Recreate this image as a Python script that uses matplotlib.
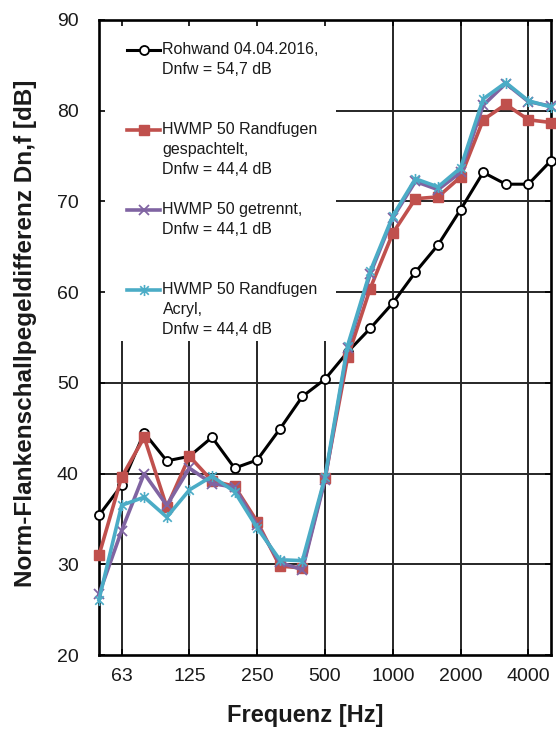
import numpy as np
import matplotlib
matplotlib.use("Agg")
import matplotlib.pyplot as plt
from matplotlib.path import Path
from matplotlib.patches import Rectangle

plt.rcParams['font.family'] = ['Liberation Sans', 'DejaVu Sans']

#----------------------------------------------------------------------------------------------------------------------
# Data (third-octave bands)

freq = ['50', '63', '80', '100', '125', '160', '200', '250', '315', '400', '500',
        '630', '800', '1000', '1250', '1600', '2000', '2500', '3150', '4000', '5000']
tick_labels = ['63', '125', '250', '500', '1000', '2000', '4000']

rohwand = [35.4, 38.7, 44.5, 41.4, 41.9, 44.0, 40.6, 41.5, 44.9, 48.5, 50.4,
           53.4, 56.0, 58.8, 62.2, 65.2, 69.1, 73.2, 71.9, 71.9, 74.5]
gespachtelt = [31.0, 39.6, 44.0, 36.3, 41.9, 39.2, 38.6, 34.7, 29.8, 29.6, 39.5,
               52.8, 60.4, 66.5, 70.3, 70.5, 72.7, 79.0, 80.7, 79.0, 78.7]
getrennt = [26.7, 33.7, 40.0, 36.5, 40.6, 38.9, 38.5, 34.3, 30.2, 29.4, 39.3,
            53.8, 62.0, 68.2, 72.2, 71.3, 73.2, 80.6, 83.0, 81.0, 80.5]
acryl = [26.1, 36.5, 37.4, 35.2, 38.2, 39.7, 38.0, 34.0, 30.5, 30.4, 39.6,
         54.1, 62.3, 68.4, 72.5, 71.6, 73.7, 81.3, 83.1, 81.1, 80.4]

labels = ['\nRohwand 04.04.2016,\nDnfw = 54,7 dB',
          '\n\nHWMP 50 Randfugen\ngespachtelt,\nDnfw = 44,4 dB',
          '\nHWMP 50 getrennt,\nDnfw = 44,1 dB',
          '\n\nHWMP 50 Randfugen\nAcryl,\nDnfw = 44,4 dB']

#----------------------------------------------------------------------------------------------------------------------
# Plot

x = np.arange(len(freq))
tick_pos = [freq.index(t) for t in tick_labels]

# asterisk marker: cross with a vertical bar
star = Path([(-1, -1), (1, 1), (-1, 1), (1, -1), (0, -1.3), (0, 1.3)],
            [Path.MOVETO, Path.LINETO, Path.MOVETO, Path.LINETO, Path.MOVETO, Path.LINETO])

fig = plt.figure(figsize=(5.56, 7.35), dpi=100)
ax = fig.add_axes([99 / 556, 80 / 735, 452 / 556, 635 / 735])

grid_col = '#262626'
for xv in tick_pos:
    ax.axvline(xv, color=grid_col, lw=1.4, zorder=1)
for yv in range(30, 90, 10):
    ax.axhline(yv, color=grid_col, lw=1.4, zorder=1)

# white area behind the legend
ax.add_patch(Rectangle((0, 0.4945), 0.524, 0.5055, transform=ax.transAxes,
                       facecolor='white', edgecolor='none', zorder=1.5))

ax.plot(x, rohwand, color='black', lw=2.2, marker='o', ms=6.5, mfc='white', mec='black',
        mew=1.3, label=labels[0], zorder=3, clip_on=False)
ax.plot(x, gespachtelt, color='#C0504D', lw=2.6, marker='s', ms=7.5, mfc='#C0504D',
        mec='#C0504D', label=labels[1], zorder=4, clip_on=False)
ax.plot(x, getrennt, color='#8064A2', lw=2.6, marker='x', ms=7.5, mew=1.3,
        label=labels[2], zorder=5, clip_on=False)
ax.plot(x, acryl, color='#4BACC6', lw=2.6, marker=star, ms=8, mew=1.2,
        label=labels[3], zorder=6, clip_on=False)

ax.set_xlim(0, 20)
ax.set_ylim(20, 90)
ax.set_xticks(tick_pos)
ax.set_xticklabels(tick_labels)
ax.set_yticks(range(20, 91, 10))
ax.set_axisbelow(False)
ax.tick_params(direction='in', length=4.5, width=1.2, top=True, right=True,
               labelsize=14, labelcolor='#1a1a1a')
ax.tick_params(axis='y', pad=14.5)
ax.tick_params(axis='x', pad=9.5)
for s in ax.spines.values():
    s.set_linewidth(1.9)
    s.set_zorder(2.6)

ax.set_xlabel('Frequenz [Hz]', fontsize=17, fontweight='bold', color='#1a1a1a', va='top')
ax.xaxis.set_label_coords(0.456, -0.077)
ax.set_ylabel('Norm-Flankenschallpegeldifferenz Dn,f [dB]', fontsize=17.5,
              fontweight='bold', color='#1a1a1a')
ax.yaxis.set_label_coords(-0.137, 0.507)

leg = ax.legend(loc='upper left', bbox_to_anchor=(0.062, 0.997), frameon=False, fontsize=11.5,
                handlelength=2.07, handletextpad=0.15, labelspacing=0.3,
                borderpad=0, borderaxespad=0)
leg.set_zorder(7)
for t in leg.get_texts():
    t.set_linespacing(1.42)
    t.set_color('#1a1a1a')

fig.savefig('out.png', dpi=100)
